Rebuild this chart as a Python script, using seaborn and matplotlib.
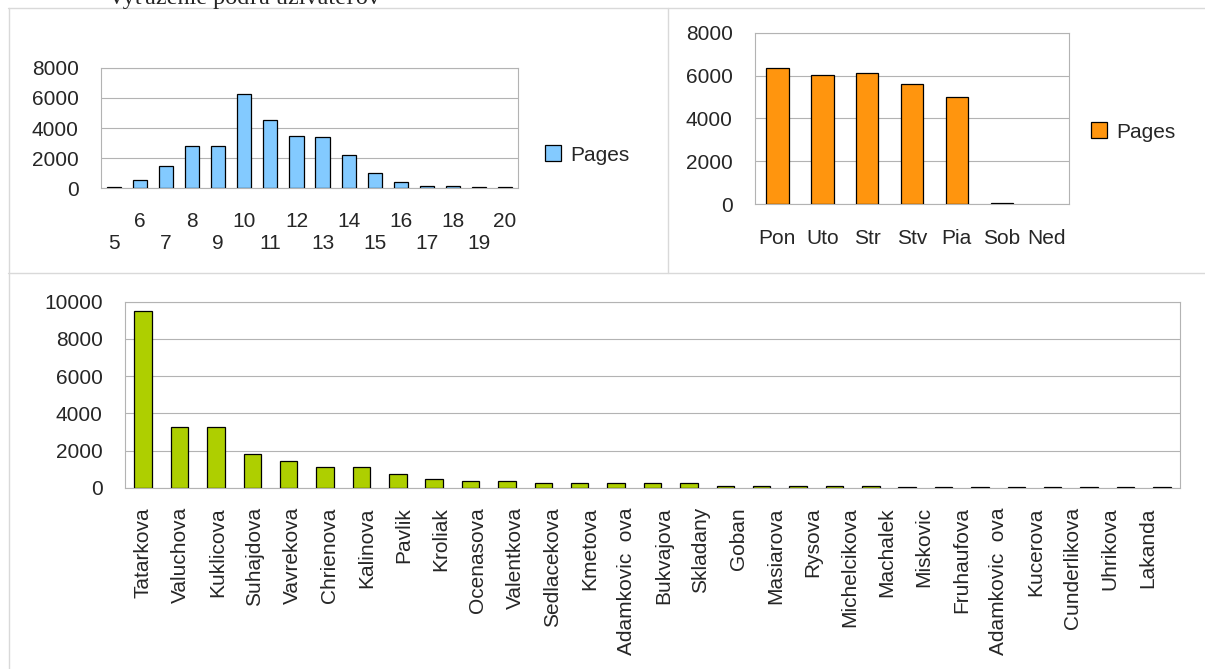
import numpy as np
import matplotlib.pyplot as plt
import seaborn as sns
from matplotlib.patches import Patch
from matplotlib.lines import Line2D

sns.set_style("white")
plt.rcParams['font.family'] = ['Liberation Sans', 'DejaVu Sans']

# data
hours = ['5', '6', '7', '8', '9', '10', '11', '12', '13', '14', '15', '16', '17', '18', '19', '20']
pages_by_hour = [60, 570, 1480, 2780, 2780, 6260, 4520, 3500, 3370, 2200, 1010, 420, 160, 160, 60, 60]

days = ['Pon', 'Uto', 'Str', 'Stv', 'Pia', 'Sob', 'Ned']
pages_by_day = [6330, 6010, 6130, 5590, 4980, 40, 0]

user_names = ['Tatarkova', 'Valuchova', 'Kuklicova', 'Suhajdova', 'Vavrekova', 'Chrienova',
              'Kalinova', 'Pavlik', 'Kroliak', 'Ocenasova', 'Valentkova', 'Sedlacekova',
              'Kmetova', 'Adamkovic  ova', 'Bukvajova', 'Skladany', 'Goban', 'Masiarova',
              'Rysova', 'Michelcikova', 'Machalek', 'Miskovic', 'Fruhaufova',
              'Adamkovic  ova', 'Kucerova', 'Cunderlikova', 'Uhrikova', 'Lakanda']
pages_by_user = [9520, 3250, 3250, 1800, 1450, 1100, 1100, 720, 480, 370, 370, 240,
                 240, 240, 240, 240, 110, 110, 110, 110, 110, 50, 50, 50, 50, 50, 50, 50, 50]

title_text = 'Vyťaženie podľa užívateľov'

BLUE = '#83caff'
ORANGE = '#ff950e'
GREEN = '#aecf00'
GRID = '#b3b3b3'
BORDER = '#d9d9d9'
FS = 15
EDGE_LW = 0.9

W, H = 1205, 669
fig = plt.figure(figsize=(W / 100, H / 100), dpi=100)


def px_axes(left, top, right, bottom):
    return fig.add_axes([left / W, 1 - bottom / H, (right - left) / W, (bottom - top) / H])


def style_axes(ax, n, ymax, step):
    ax.set_ylim(0, ymax)
    ax.set_yticks(np.arange(0, ymax + 1, step))
    ax.set_xlim(-0.5, n - 0.5)
    ax.set_xticks(np.arange(-0.5, n, 1), minor=True)
    ax.tick_params(axis='x', which='minor', length=11, width=0.8, color=GRID, direction='out')
    ax.tick_params(axis='x', which='major', length=0, labelsize=FS)
    ax.tick_params(axis='y', length=11, width=0.8, color=GRID, direction='out', pad=5, labelsize=FS)
    ax.grid(axis='y', color=GRID, lw=0.8)
    ax.grid(axis='x', visible=False)
    ax.set_axisbelow(True)
    for s in ax.spines.values():
        s.set_visible(True)
        s.set_color(GRID)
        s.set_linewidth(0.8)
    ax.set_xlabel('')
    ax.set_ylabel('')
    # bars sit on top of the axis line, empty ones are not drawn
    for p in ax.patches:
        p.set_zorder(3)
        if p.get_height() == 0:
            p.set_visible(False)


def add_legend(color, x, y):
    fig.legend(handles=[Patch(facecolor=color, edgecolor='black', lw=EDGE_LW, label='Pages')],
               loc='center left', bbox_to_anchor=(x / W, 1 - y / H), frameon=False,
               fontsize=FS, handlelength=0.77, handleheight=0.77, handletextpad=0.45,
               borderpad=0, borderaxespad=0)


# =====================================================
# 1. pages by hour
# =====================================================
ax1 = px_axes(101, 67.7, 518, 188.3)
sns.barplot(x=list(range(len(hours))), y=pages_by_hour, color=BLUE, saturation=1,
            edgecolor='black', linewidth=EDGE_LW, width=0.54, errorbar=None, ax=ax1)
style_axes(ax1, len(hours), 8000, 2000)
# every other label goes on a second row
hour_labels = [('\n' + h) if i % 2 == 0 else h for i, h in enumerate(hours)]
ax1.set_xticks(range(len(hours)), labels=hour_labels)
ax1.tick_params(axis='x', which='major', pad=17)
add_legend(BLUE, 545, 155)

# =====================================================
# 2. pages by weekday
# =====================================================
ax2 = px_axes(755, 32.7, 1069, 204)
sns.barplot(x=days, y=pages_by_day, color=ORANGE, saturation=1,
            edgecolor='black', linewidth=EDGE_LW, width=0.5, errorbar=None, ax=ax2)
style_axes(ax2, len(days), 8000, 2000)
ax2.tick_params(axis='x', which='major', pad=18)
add_legend(ORANGE, 1091, 132)

# =====================================================
# 3. pages by user
# =====================================================
ax3 = px_axes(125, 301.7, 1180, 487.7)
sns.barplot(x=list(range(len(pages_by_user))), y=pages_by_user, color=GREEN, saturation=1,
            edgecolor='black', linewidth=EDGE_LW, width=0.48, errorbar=None, ax=ax3)
style_axes(ax3, len(pages_by_user), 10000, 2000)
# the labels drift slightly against the bars, as in the source chart
label_pos = np.linspace(0, 27.6, len(user_names))
ax3.set_xticks(label_pos, labels=user_names, rotation=90)
ax3.tick_params(axis='x', which='major', pad=14)

# page fragment: heading cut at the top and table borders
fig.text(108 / W, 1 - 4 / H, title_text, family=['Liberation Serif', 'DejaVu Serif'],
         fontsize=17.4, va='baseline', ha='left')
for xs, ys in [((8, W), (7.5, 7.5)), ((8.5, 8.5), (7.5, H)),
               ((667.5, 667.5), (7.5, 273)), ((8, W), (273, 273))]:
    fig.add_artist(Line2D([x / W for x in xs], [1 - y / H for y in ys],
                          color=BORDER, lw=1, transform=fig.transFigure))

fig.savefig('out.png', dpi=100)
